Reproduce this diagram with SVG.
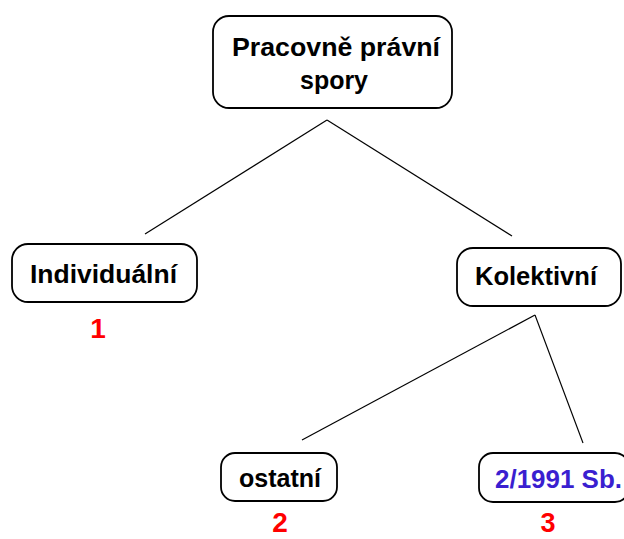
<svg xmlns="http://www.w3.org/2000/svg" width="624" height="539" viewBox="0 0 624 539">
<style>
.box{fill:#fff;stroke:#000;stroke-width:1.8}
.t{font-family:"Liberation Sans",Arial,sans-serif;font-weight:bold;font-size:25px;text-anchor:middle;fill:#000}
.n{font-family:"Liberation Sans",Arial,sans-serif;font-weight:bold;font-size:28px;text-anchor:middle;fill:#ff0000}
.c{stroke:#000;stroke-width:1.2;fill:none}
</style>
<rect width="624" height="539" fill="#fff"/>
<g id="connectors">
<line class="c" x1="327" y1="120" x2="145" y2="234"/>
<line class="c" x1="327" y1="120" x2="512" y2="236"/>
<line class="c" x1="535" y1="315" x2="302" y2="440"/>
<line class="c" x1="535" y1="315" x2="583" y2="443"/>
</g>
<g id="root">
<rect class="box" x="213" y="16" width="239" height="92" rx="16"/>
<text class="t" x="336" y="56" textLength="208" lengthAdjust="spacingAndGlyphs">Pracovně právní</text>
<text class="t" x="334" y="89" textLength="68" lengthAdjust="spacingAndGlyphs">spory</text>
</g>
<g id="individualni">
<rect class="box" x="12" y="244" width="185" height="58" rx="16"/>
<text class="t" x="103.5" y="283" textLength="147" lengthAdjust="spacingAndGlyphs">Individuální</text>
<text class="n" x="98" y="338">1</text>
</g>
<g id="kolektivni">
<rect class="box" x="457" y="248" width="164" height="58" rx="16"/>
<text class="t" x="536" y="285" textLength="122" lengthAdjust="spacingAndGlyphs">Kolektivní</text>
</g>
<g id="ostatni">
<rect class="box" x="221" y="453" width="116" height="48" rx="14"/>
<text class="t" x="280" y="487" textLength="82" lengthAdjust="spacingAndGlyphs">ostatní</text>
<text class="n" x="280" y="532">2</text>
</g>
<g id="zakon">
<rect class="box" x="479" y="453" width="150" height="49" rx="14"/>
<text class="t" x="558.5" y="488" textLength="127" lengthAdjust="spacingAndGlyphs" style="fill:#3a1fd0">2/1991 Sb.</text>
<text class="n" x="548" y="532" style="font-size:27px">3</text>
</g>
</svg>
